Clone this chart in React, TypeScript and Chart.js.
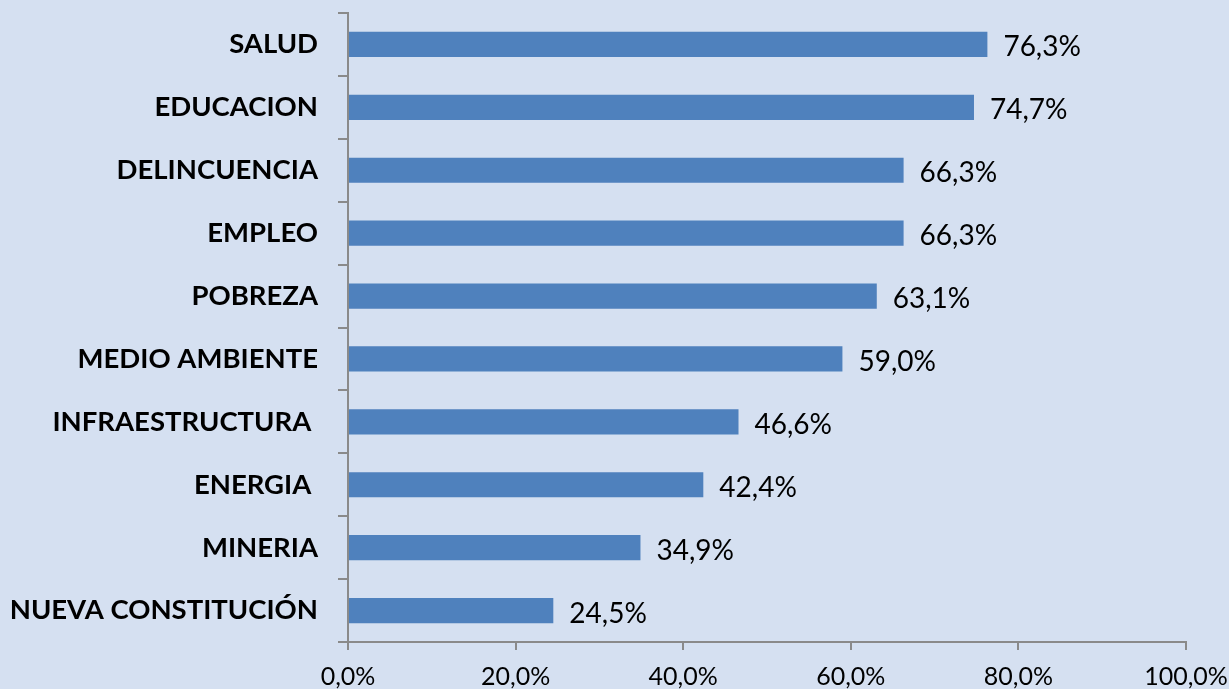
import React, { useEffect, useRef } from "react";
import { Chart, registerables } from "chart.js";

Chart.register(...registerables);

const categories = [
  "SALUD",
  "EDUCACION",
  "DELINCUENCIA",
  "EMPLEO",
  "POBREZA",
  "MEDIO AMBIENTE",
  "INFRAESTRUCTURA ",
  "ENERGIA ",
  "MINERIA",
  "NUEVA CONSTITUCIÓN",
];
const values = [76.3, 74.7, 66.3, 66.3, 63.1, 59.0, 46.6, 42.4, 34.9, 24.5];
const xTicks = [0, 20, 40, 60, 80, 100];

const BG = "#d5e0f1";
const AXIS = "#8a8a8a";
const FONT = "Lato";

const fmt = (v: number) => v.toFixed(1).replace(".", ",") + "%";

export default function App() {
  const ref = useRef<HTMLCanvasElement | null>(null);

  useEffect(() => {
    document.body.style.margin = "0";
    document.body.style.background = BG;
    const bgPlugin = {
      id: "bg",
      beforeDraw(chart: any) {
        const { ctx, width, height } = chart;
        ctx.save();
        ctx.fillStyle = BG;
        ctx.fillRect(0, 0, width, height);
        ctx.restore();
      },
    };
    const labelPlugin = {
      id: "vlabels",
      afterDatasetsDraw(chart: any) {
        const { ctx } = chart;
        const meta = chart.getDatasetMeta(0);
        ctx.save();
        ctx.font = `28px ${FONT}`;
        ctx.fillStyle = "#000";
        ctx.textAlign = "left";
        ctx.textBaseline = "middle";
        meta.data.forEach((bar: any, i: number) => {
          ctx.fillText(fmt(values[i]), bar.x + 16, bar.y + 3);
        });
        ctx.restore();
      },
    };
    const chart = new Chart(ref.current!, {
      type: "bar",
      data: {
        labels: categories,
        datasets: [
          {
            data: values,
            backgroundColor: "#4f81bd",
            borderWidth: 0,
            categoryPercentage: 0.8,
            barPercentage: 0.5,
          },
        ],
      },
      options: {
        indexAxis: "y",
        responsive: false,
        animation: false,
        layout: { padding: { top: 13, right: 43, left: 0, bottom: 0 } },
        plugins: { legend: { display: false }, tooltip: { enabled: false } },
        scales: {
          x: {
            min: 0,
            max: 100,
            afterBuildTicks(scale: any) {
              scale.ticks = xTicks.map((v) => ({ value: v }));
            },
            afterFit(scale: any) {
              scale.height = 47;
              scale.paddingLeft = 0;
              scale.paddingRight = 0;
            },
            ticks: {
              font: { family: FONT, size: 25 },
              color: "#000",
              padding: 12,
              callback: (v: any) => fmt(Number(v)),
            },
            grid: {
              drawOnChartArea: false,
              drawTicks: true,
              tickLength: 8,
              color: AXIS,
              lineWidth: 2,
            },
            border: { color: AXIS, width: 2 },
          },
          y: {
            afterFit(scale: any) {
              scale.width = 348;
              scale.paddingTop = 0;
              scale.paddingBottom = 0;
            },
            ticks: {
              font: { family: FONT, size: 27.5, weight: "bold" },
              color: "#000",
              padding: 20,
            },
            grid: {
              drawOnChartArea: false,
              drawTicks: true,
              tickLength: 10,
              color: AXIS,
              lineWidth: 2,
              offset: true,
            },
            border: { color: AXIS, width: 2 },
          },
        },
      },
      plugins: [bgPlugin, labelPlugin],
    });
    return () => chart.destroy();
  }, []);

  return <canvas ref={ref} width={1229} height={689} style={{ display: "block" }} />;
}
